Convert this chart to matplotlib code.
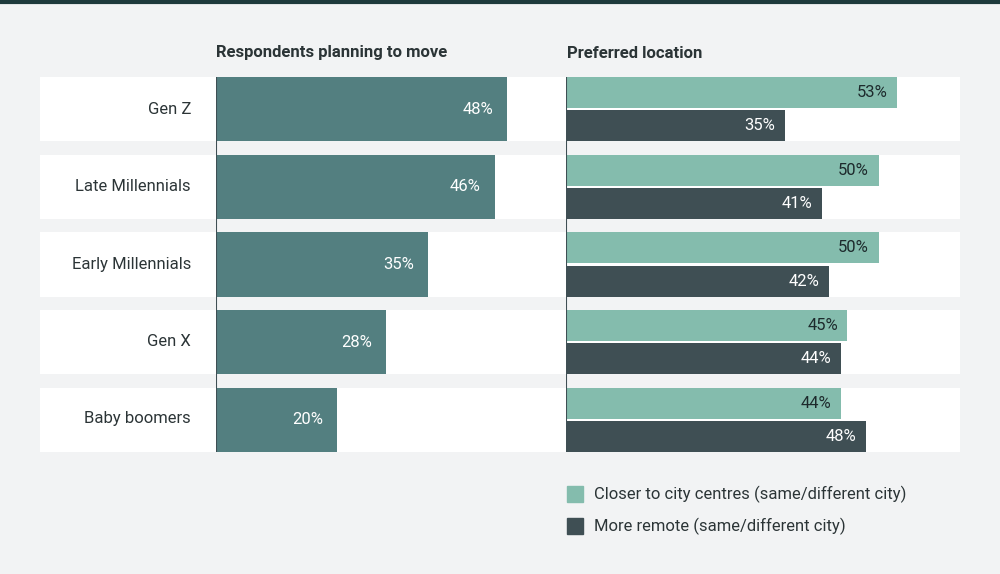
import matplotlib.pyplot as plt
import numpy as np

plt.rcParams['font.family'] = 'Roboto'

groups = ['Gen Z', 'Late Millennials', 'Early Millennials', 'Gen X', 'Baby boomers']
moving = [48, 46, 35, 28, 20]
closer = [53, 50, 50, 45, 44]
remote = [35, 41, 42, 44, 48]

W, H = 1000, 574
bg = '#f2f3f4'
c_move = '#537f80'
c_close = '#84bcad'
c_remote = '#3f4f54'
c_text = '#2b3436'

fig = plt.figure(figsize=(W / 100, H / 100), dpi=100, facecolor=bg)

def px_axes(x0, y0, x1, y1):
    return fig.add_axes([x0 / W, 1 - y1 / H, (x1 - x0) / W, (y1 - y0) / H])

step, band = 77.5, 64
ylim = (4 * step + band / 2, -band / 2)
ys = np.arange(len(groups)) * step

# top rule
fig.add_artist(plt.Line2D([0, 1], [1 - 1.5 / H] * 2, color='#1e3a3c', lw=3))

# background bands
axb = px_axes(40, 77, 960, 452)
axb.set_xlim(0, 1)
axb.set_ylim(*ylim)
axb.barh(ys, 1, height=band, left=0, color='white')
axb.axis('off')
for y, g in zip(ys, groups):
    fig.text(191 / W, 1 - (77 + 32 + y) / H, g, ha='right', va='center',
             fontsize=12, color=c_text)

# left panel
axl = px_axes(216, 77, 566, 452)
axl.set_xlim(0, 350 / 6.06)
axl.set_ylim(*ylim)
axl.patch.set_alpha(0)
axl.axis('off')
axl.barh(ys, moving, height=band, color=c_move)
axl.axvline(0, color=c_remote, lw=1.5)
for y, v in zip(ys, moving):
    axl.text(v - 2.3, y, f'{v}%', ha='right', va='center', color='white', fontsize=12)

# right panel
axr = px_axes(566, 77, 960, 452)
axr.set_xlim(0, 394 / 6.25)
axr.set_ylim(*ylim)
axr.patch.set_alpha(0)
axr.axis('off')
bh = 31
axr.barh(ys - 16.5, closer, height=bh, color=c_close)
axr.barh(ys + 16.5, remote, height=bh, color=c_remote)
axr.axvline(0, color=c_remote, lw=1.5)
for y, a, b in zip(ys, closer, remote):
    axr.text(a - 1.5, y - 16.5, f'{a}%', ha='right', va='center', color='#1d2a2c', fontsize=12)
    axr.text(b - 1.5, y + 16.5, f'{b}%', ha='right', va='center', color='white', fontsize=12)

fig.text(216 / W, 1 - 53 / H, 'Respondents planning to move', fontsize=12,
         fontweight='bold', color=c_text, va='center')
fig.text(567 / W, 1 - 53 / H, 'Preferred location', fontsize=12,
         fontweight='bold', color=c_text, va='center')

# legend
for yy, col, lab in [(494, c_close, 'Closer to city centres (same/different city)'),
                     (526, c_remote, 'More remote (same/different city)')]:
    fig.add_artist(plt.Rectangle((567 / W, 1 - (yy + 8) / H), 16 / W, 16 / H,
                                 color=col, transform=fig.transFigure))
    fig.text(594 / W, 1 - yy / H, lab, fontsize=12, color=c_text, va='center')

fig.savefig('out.png', dpi=100, facecolor=bg)
